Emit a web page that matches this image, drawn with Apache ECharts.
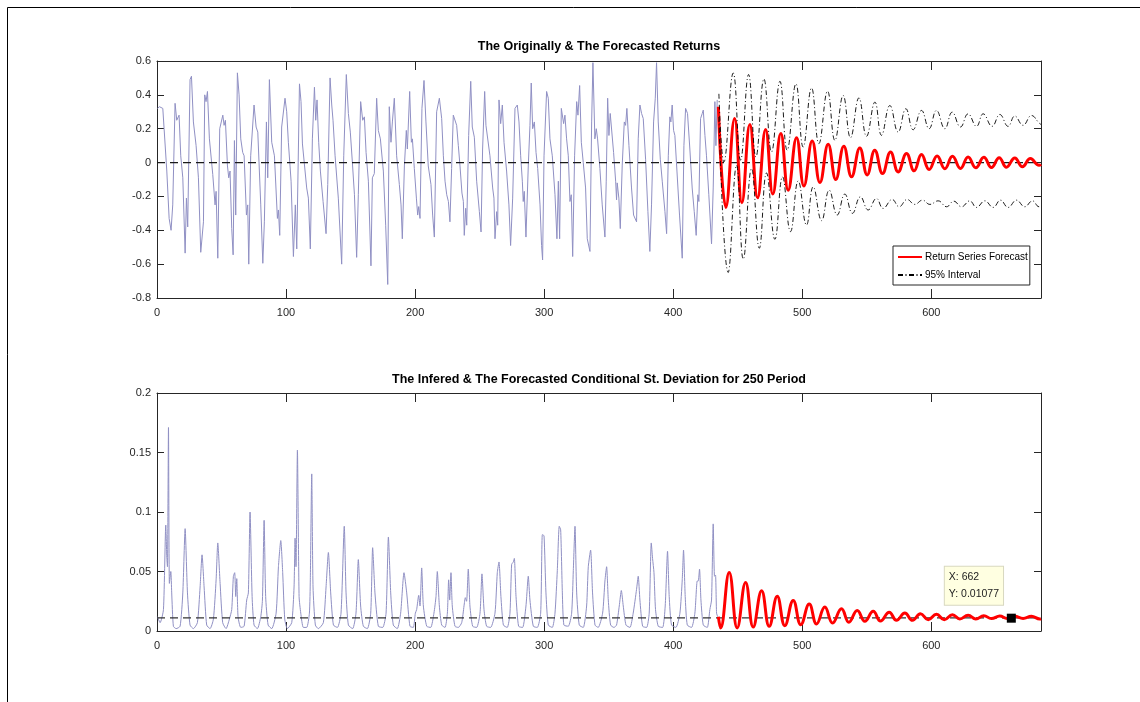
<!DOCTYPE html>
<html>
<head>
<meta charset="utf-8">
<script src="https://cdn.jsdelivr.net/npm/echarts@6/dist/echarts.min.js"></script>
<style>
  html, body { margin: 0; padding: 0; background: #fff; }
  #chart { width: 1140px; height: 702px; }
</style>
</head>
<body>
<div id="chart"></div>
<script>
// [period, value]

// observed returns
let obsReturns = [
  [0.3,0.32],[1.9,0.33],[3.2,0.32],[4.5,0.32],[5.5,0.20],[7.6,-0.05],[9.4,-0.33],[10.9,-0.40],[12.2,-0.25],
  [14.0,0.35],[15.3,0.25],[17.1,0.28],[18.4,0.04],[20.0,-0.09],[21.8,-0.535],[22.8,-0.21],[23.8,-0.38],
  [25.6,0.49],[26.7,0.51],[28.2,0.24],[30.3,0.10],[32.1,-0.09],[33.9,-0.53],[36.0,-0.35],[37.0,0.40],
  [38.0,0.36],[39.1,0.42],[40.6,0.14],[43.2,-0.07],[45.0,-0.25],[45.8,-0.17],[47.1,-0.565],[48.6,0.20],
  [51.0,0.28],[52.0,0.22],[53.0,0.25],[54.6,-0.02],[55.6,-0.09],[56.6,-0.05],[57.9,-0.39],[59.0,-0.545],
  [60.0,0.13],[61.0,-0.31],[62.3,0.53],[63.6,0.40],[64.9,0.14],[66.4,0.06],[67.5,0.04],[69.3,-0.31],
  [70.3,-0.25],[71.1,-0.60],[72.6,0.04],[75.2,0.34],[76.8,0.21],[78.1,0.18],[80.4,-0.25],[82.0,-0.595],
  [83.2,-0.35],[84.8,0.24],[85.8,-0.09],[87.1,0.49],[88.9,0.12],[91.0,0.04],[93.3,-0.33],[94.1,-0.28],
  [95.1,-0.43],[96.6,0.21],[97.9,0.20],[99.2,0.38],[100.5,0.30],[101.8,0.12],[103.9,-0.11],[105.7,-0.555],
  [107.2,-0.25],[108.3,-0.51],[110.4,0.465],[111.6,0.36],[112.7,0.11],[114.0,0.10],[116.0,-0.15],
  [117.3,-0.21],[118.8,-0.51],[120.4,0.14],[122.0,0.445],[123.0,0.25],[124.0,0.37],[125.3,0.12],
  [126.6,-0.05],[128.7,-0.23],[131.0,-0.42],[132.3,-0.13],[134.1,0.50],[135.4,0.34],[136.4,0.25],
  [138.0,0.04],[140.5,-0.21],[143.1,-0.60],[144.7,0.04],[146.7,0.52],[148.3,0.29],[149.8,0.18],
  [151.4,0.00],[153.0,-0.19],[154.7,-0.56],[156.0,-0.19],[157.8,0.36],[159.4,0.25],[160.7,0.27],
  [162.0,0.06],[163.8,-0.11],[165.8,-0.61],[166.9,-0.09],[168.4,-0.065],[170.2,0.38],[171.5,0.19],
  [173.1,0.14],[175.4,-0.05],[177.2,-0.37],[178.8,-0.72],[180.0,0.33],[181.3,0.12],[182.4,0.24],
  [183.9,0.38],[185.7,0.04],[187.8,-0.13],[189.1,-0.25],[190.1,-0.45],[191.7,-0.02],[193.2,0.19],
  [194.0,0.08],[195.8,0.42],[197.1,0.12],[197.9,0.14],[199.4,-0.035],[201.0,-0.21],[202.0,-0.31],
  [202.8,-0.26],[203.8,-0.33],[205.3,0.32],[206.9,0.485],[208.4,0.24],[210.2,-0.02],[212.3,-0.13],
  [213.6,-0.31],[214.9,-0.44],[216.7,0.30],[217.5,0.31],[218.8,0.38],[220.6,0.26],[221.9,0.04],
  [223.2,-0.11],[224.5,-0.19],[225.8,-0.23],[227.0,-0.35],[228.3,-0.035],[229.6,0.28],[230.9,0.29],
  [232.2,0.22],[233.5,0.10],[234.8,-0.02],[236.3,-0.18],[237.4,-0.23],[238.1,-0.43],[239.2,-0.27],
  [240.0,-0.37],[241.5,0.16],[243.1,0.48],[244.3,0.21],[245.9,0.15],[247.7,-0.11],[249.8,-0.29],
  [251.1,-0.41],[252.3,0.08],[253.9,0.42],[254.9,0.22],[256.2,0.21],[258.0,0.04],[260.1,-0.15],
  [261.1,-0.21],[261.9,-0.45],[263.2,-0.29],[264.0,-0.37],[265.0,0.37],[266.3,0.23],[267.6,0.34],
  [268.9,0.12],[270.9,-0.05],[272.7,-0.25],[274.0,-0.49],[275.6,-0.21],[277.4,0.32],[279.2,0.34],
  [280.5,0.24],[281.8,0.04],[283.1,-0.11],[283.8,-0.23],[284.6,-0.17],[285.9,-0.44],[287.7,-0.02],
  [289.0,0.22],[290.0,0.47],[291.1,0.20],[292.4,0.24],[293.7,0.06],[295.0,-0.035],[296.8,-0.25],
  [298.0,-0.49],[298.8,-0.575],[299.9,0.04],[301.9,0.42],[303.2,0.38],[304.5,0.14],[306.3,0.04],
  [308.4,-0.19],[309.9,-0.45],[311.0,-0.11],[312.0,-0.45],[313.3,0.32],[314.3,0.33],[315.1,0.23],
  [316.1,0.28],[317.4,0.14],[318.7,0.04],[320.0,-0.23],[321.0,-0.19],[322.1,-0.555],[323.6,0.04],
  [325.2,0.36],[326.2,0.28],[327.5,0.455],[328.8,0.12],[330.3,0.00],[332.1,-0.15],[333.4,-0.45],
  [334.4,-0.46],[335.5,-0.525],[336.8,0.24],[337.8,0.59],[339.3,0.14],[340.4,0.20],[341.4,0.14],
  [343.2,-0.035],[345.0,-0.25],[347.1,-0.44],[348.1,-0.11],[349.2,0.38],[350.2,0.16],[351.2,0.29],
  [352.3,0.28],[353.8,0.06],[355.4,-0.11],[356.1,-0.22],[356.6,-0.12],[357.9,-0.21],[359.0,-0.39],
  [360.5,-0.015],[362.1,0.24],[363.1,0.22],[364.1,0.32],[365.7,0.10],[367.7,-0.15],[369.3,-0.31],
  [370.6,-0.32],[371.6,-0.35],[372.9,0.14],[374.2,0.34],[375.5,0.29],[376.8,0.26],[378.6,0.02],
  [380.4,-0.29],[381.9,-0.525],[383.2,-0.25],[384.8,0.24],[386.1,0.38],[387.1,0.59],[388.4,0.24],
  [390.0,0.02],[391.5,-0.11],[393.6,-0.29],[394.9,-0.42],[396.2,0.04],[397.4,0.27],[398.2,0.24],
  [399.2,0.34],[400.3,0.19],[401.3,0.16],[402.9,-0.05],[404.9,-0.31],[407.0,-0.565],[408.3,0.10],
  [409.6,0.32],[411.1,0.29],[412.9,0.08],[414.7,-0.15],[416.3,-0.29],[417.8,-0.43],[419.1,-0.19],
  [419.9,-0.23],[421.2,0.26],[422.5,0.29],[423.3,0.31],[424.6,0.16],[425.8,0.04],[427.6,-0.19],
  [429.7,-0.48],[431.0,-0.15],[432.3,0.36],[433.1,0.10],[434.1,0.37]
]

// forecasted returns (turning points)
let fcReturns = [
  [435,0.33],[440.8,-0.265],[447.6,0.26],[453.2,-0.237],[459.4,0.225],[465.4,-0.208],[471.6,0.196],
  [477.2,-0.186],[483.4,0.171],[489.1,-0.163],[495.6,0.147],[501.3,-0.139],[507.7,0.127],[513.7,-0.118],
  [520.1,0.108],[526.0,-0.10],[532.2,0.096],[538.2,-0.084],[544.6,0.086],[550.3,-0.073],[556.2,0.073],
  [562.2,-0.065],[568.4,0.063],[574.3,-0.055],[580.8,0.053],[586.7,-0.049],[592.4,0.047],[598.3,-0.041],
  [604.5,0.039],[610.5,-0.037],[616.4,0.037],[622.6,-0.035],[628.5,0.033],[634.5,-0.031],[640.7,0.031],
  [646.6,-0.029],[652.6,0.029],[658.2,-0.027],[664.7,0.027],[670.6,-0.025],[676.8,0.024],[683.5,-0.016],
  [685,-0.01]
]

// 95% interval bounds
let fcUpper = [
  [435.4,0.406],[439.3,0.004],[446.5,0.529],[452.2,0.014],[458.4,0.52],[464.1,0.033],[470.3,0.494],
  [476.2,0.063],[482.7,0.480],[488.3,0.073],[495.1,0.465],[500.7,0.092],[507.2,0.441],[512.9,0.112],
  [519.6,0.422],[525.3,0.131],[531.7,0.396],[537.4,0.147],[543.9,0.382],[549.8,0.155],[556.3,0.357],
  [561.4,0.161],[567.9,0.337],[574.3,0.180],[580.3,0.318],[585.9,0.194],[592.4,0.308],[598.3,0.20],
  [604.0,0.308],[610.5,0.20],[616.2,0.298],[622.6,0.210],[628.5,0.288],[635.0,0.214],[640.2,0.288],
  [647.1,0.214],[653.1,0.284],[659.5,0.214],[664.7,0.275],[671.1,0.220],[677.6,0.278],[683.5,0.234],
  [685,0.225]
]
let fcLower = [
  [435.4,0.269],[442.6,-0.649],[449.1,-0.016],[454.3,-0.571],[460.7,-0.035],[466.7,-0.506],[472.3,-0.061],
  [478.8,-0.453],[484.7,-0.084],[490.9,-0.408],[496.9,-0.108],[503.3,-0.369],[508.5,-0.143],[515.0,-0.343],
  [520.9,-0.163],[527.1,-0.310],[533.0,-0.186],[538.9,-0.300],[545.1,-0.202],[551.1,-0.280],[557.5,-0.212],
  [562.7,-0.271],[569.7,-0.218],[575.1,-0.261],[581.3,-0.218],[587.2,-0.247],[593.2,-0.222],[598.9,-0.247],
  [605.3,-0.226],[611.8,-0.261],[617.4,-0.228],[623.4,-0.261],[629.8,-0.226],[635.0,-0.265],[641.5,-0.226],
  [647.9,-0.265],[653.6,-0.222],[659.5,-0.265],[666.0,-0.222],[672.4,-0.261],[678.4,-0.226],[683.5,-0.261],
  [685,-0.255]
]

// inferred conditional st. deviation
let obsSigma = [
  [0.3,0.012],[2.4,0.007],[5.0,0.018],[6.8,0.089],[7.6,0.062],[8.1,0.054],[8.9,0.171],[9.6,0.040],
  [10.7,0.050],[11.4,0.032],[12.7,0.004],[14.8,0.002],[17.9,0.004],[20.0,0.032],[21.8,0.086],[23.6,0.032],
  [25.6,0.005],[28.2,0.002],[31.3,0.007],[33.4,0.037],[34.9,0.064],[36.5,0.037],[38.5,0.005],[41.1,0.002],
  [43.7,0.010],[45.8,0.043],[47.1,0.074],[48.9,0.040],[50.9,0.007],[53.5,0.002],[56.1,0.010],[57.9,0.018],
  [59.2,0.046],[60.2,0.049],[61.0,0.029],[61.8,0.044],[62.8,0.012],[64.9,0.003],[67.5,0.004],[69.5,0.026],
  [70.8,0.032],[72.1,0.100],[73.7,0.029],[75.2,0.005],[77.8,0.002],[80.4,0.012],[81.7,0.026],[83.0,0.093],
  [84.2,0.029],[86.1,0.005],[88.9,0.002],[92.3,0.015],[94.1,0.054],[95.9,0.076],[97.4,0.049],[99.0,0.010],
  [101.0,0.002],[104.4,0.007],[106.2,0.037],[107.0,0.078],[107.7,0.054],[108.8,0.152],[110.1,0.029],
  [111.4,0.015],[113.4,0.003],[116.0,0.003],[118.1,0.015],[118.8,0.043],[119.9,0.132],[120.9,0.037],
  [122.7,0.005],[125.0,0.002],[128.9,0.007],[131.0,0.037],[132.8,0.066],[134.6,0.032],[136.7,0.005],
  [139.8,0.003],[142.6,0.015],[145.1,0.088],[146.5,0.032],[148.3,0.005],[151.6,0.002],[154.2,0.015],
  [156.0,0.060],[157.8,0.021],[159.9,0.004],[163.0,0.002],[165.6,0.015],[167.1,0.070],[168.9,0.032],
  [171.5,0.004],[174.9,0.003],[177.5,0.015],[179.3,0.079],[181.1,0.032],[183.1,0.005],[186.2,0.002],
  [188.8,0.015],[191.4,0.049],[193.5,0.032],[196.0,0.004],[198.6,0.003],[200.2,0.015],[201.2,0.018],
  [202.8,0.030],[203.8,0.021],[205.1,0.053],[206.4,0.021],[209.0,0.004],[212.1,0.003],[214.6,0.015],
  [216.2,0.029],[217.2,0.050],[218.8,0.021],[220.6,0.005],[223.2,0.003],[225.0,0.015],[226.0,0.043],
  [226.8,0.026],[227.8,0.049],[228.8,0.021],[230.9,0.004],[233.5,0.003],[236.1,0.007],[237.9,0.021],
  [238.9,0.028],[239.9,0.025],[241.2,0.052],[242.5,0.021],[244.6,0.004],[247.7,0.003],[250.3,0.015],
  [251.8,0.048],[253.4,0.018],[255.4,0.004],[258.5,0.003],[261.9,0.015],[263.7,0.049],[265.0,0.058],
  [266.5,0.029],[268.4,0.005],[271.4,0.003],[273.5,0.015],[274.8,0.056],[276.1,0.058],[276.9,0.061],
  [278.2,0.029],[280.2,0.004],[283.3,0.003],[285.9,0.021],[287.7,0.046],[289.0,0.026],[291.6,0.004],
  [294.7,0.003],[297.3,0.015],[298.6,0.081],[299.9,0.080],[301.4,0.032],[303.2,0.005],[306.3,0.003],
  [308.4,0.015],[310.2,0.051],[311.7,0.088],[312.8,0.085],[314.1,0.032],[315.3,0.005],[318.7,0.004],
  [321.3,0.015],[322.6,0.051],[323.9,0.088],[325.2,0.032],[327.2,0.005],[330.3,0.003],[332.9,0.021],
  [334.2,0.054],[336.0,0.068],[337.5,0.032],[339.4,0.005],[341.9,0.003],[345.3,0.015],[347.1,0.042],
  [348.4,0.054],[349.7,0.026],[351.5,0.005],[354.1,0.003],[356.1,0.005],[358.2,0.021],[359.8,0.034],
  [361.3,0.021],[363.4,0.005],[366.5,0.003],[369.0,0.015],[371.6,0.035],[372.9,0.046],[374.2,0.026],
  [376.3,0.004],[379.4,0.003],[381.4,0.015],[383.0,0.074],[384.0,0.061],[385.1,0.049],[386.3,0.018],
  [388.4,0.004],[391.8,0.003],[393.8,0.021],[395.6,0.067],[396.9,0.029],[398.7,0.005],[402.1,0.003],
  [405.2,0.015],[407.0,0.043],[408.0,0.068],[409.3,0.029],[410.9,0.005],[414.2,0.003],[416.8,0.015],
  [418.6,0.042],[419.4,0.042],[420.4,0.052],[421.5,0.026],[423.3,0.005],[426.4,0.003],[428.4,0.018],
  [429.7,0.026],[431.0,0.090],[432.0,0.046],[432.8,0.047],[433.6,0.015],[434.5,0.012]
]

// forecasted conditional st. deviation (turning points)
let fcSigma = [
  [435,0.012],[436.7,0.0026],[443.4,0.0491],[449.6,0.0026],[456.1,0.0408],[462.0,0.0034],[468.5,0.0338],
  [474.4,0.0039],[480.6,0.0291],[486.5,0.0045],[493.0,0.0257],[498.9,0.0053],[505.4,0.0226],[511.1,0.0059],
  [517.5,0.0201],[523.5,0.0067],[530.4,0.0187],[536.1,0.0073],[542.6,0.0173],[548.5,0.0081],[555.0,0.0165],
  [560.6,0.0084],[567.4,0.0157],[573.0,0.0090],[579.5,0.0151],[585.4,0.0090],[591.6,0.0146],[597.6,0.0095],
  [604.0,0.0140],[610.0,0.0095],[616.4,0.0137],[622.1,0.0101],[628.5,0.0132],[634.5,0.0101],[640.7,0.0129],
  [646.6,0.0104],[653.1,0.0126],[658.8,0.0106],[662,0.01077],[664.7,0.0123],[671.1,0.0106],[677.6,0.0123],
  [684.1,0.0101],[685,0.0103]
]

// reference levels
let meanLine = [[0, 0], [685, 0]]
let sigmaLine = [[0, 0.011], [685, 0.011]]

// data tip
let tipX = 662
let tipY = 0.01077

let titles = ['The Originally & The Forecasted Returns',
  'The Infered & The Forecasted Conditional St. Deviation for 250 Period']

let font = 'Liberation Sans, Arial, sans-serif'
let axisColor = '#262626'
let obsColor = '#9090c4'

function xAxisPair(gridIndex) {
  let base = {
    type: 'value', gridIndex: gridIndex, min: 0, max: 685, interval: 100,
    splitLine: { show: false },
    axisLine: { show: true, onZero: false, lineStyle: { color: axisColor, width: 1 } },
    axisTick: { show: true, inside: true, length: 9, lineStyle: { color: axisColor } }
  }
  return [
    Object.assign({}, base, {
      position: 'bottom',
      axisLabel: { show: true, margin: 9, showMaxLabel: false, color: axisColor, fontSize: 11, fontFamily: font }
    }),
    Object.assign({}, base, { position: 'top', axisLabel: { show: false } })
  ]
}

function yAxisPair(gridIndex, min, max, interval) {
  let base = {
    type: 'value', gridIndex: gridIndex, min: min, max: max, interval: interval,
    splitLine: { show: false },
    axisLine: { show: true, onZero: false, lineStyle: { color: axisColor, width: 1 } },
    axisTick: { show: true, inside: true, length: 7, lineStyle: { color: axisColor } }
  }
  return [
    Object.assign({}, base, {
      position: 'left',
      axisLabel: { show: true, margin: 6, color: axisColor, fontSize: 11, fontFamily: font }
    }),
    Object.assign({}, base, { position: 'right', axisLabel: { show: false } })
  ]
}

let chart = echarts.init(document.getElementById('chart'), null, { renderer: 'canvas' })

let option = {
  backgroundColor: '#fff',
  animation: false,
  title: [
    { text: titles[0], left: 599, top: 40, textAlign: 'center', padding: 0,
      textStyle: { fontSize: 12.5, fontWeight: 'bold', color: '#000', fontFamily: font } },
    { text: titles[1], left: 599, top: 373, textAlign: 'center', padding: 0,
      textStyle: { fontSize: 12.5, fontWeight: 'bold', color: '#000', fontFamily: font } }
  ],
  grid: [
    { left: 157, top: 61, width: 884, height: 237 },
    { left: 157, top: 393, width: 884, height: 238 }
  ],
  xAxis: xAxisPair(0).concat(xAxisPair(1)),
  yAxis: yAxisPair(0, -0.8, 0.6, 0.2).concat(yAxisPair(1, 0, 0.2, 0.05)),
  legend: {
    data: ['Return Series Forecast', '95% Interval'],
    orient: 'vertical', left: 893, top: 246,
    itemWidth: 24, itemHeight: 10, itemGap: 8,
    padding: [6, 2, 5, 4],
    itemStyle: { opacity: 0 },
    backgroundColor: '#fff', borderColor: axisColor, borderWidth: 1, borderRadius: 0,
    textStyle: { fontSize: 10, color: '#000', fontFamily: font, padding: [0, 0, 0, -2] }
  },
  graphic: [
    { type: 'line', shape: { x1: 7.5, y1: 7.5, x2: 1140, y2: 7.5 }, style: { stroke: '#000', lineWidth: 1 } },
    { type: 'line', shape: { x1: 7.5, y1: 7.5, x2: 7.5, y2: 702 }, style: { stroke: '#000', lineWidth: 1 } }
  ],
  series: [
    {
      type: 'line', name: 'obs', xAxisIndex: 0, yAxisIndex: 0, data: obsReturns,
      symbol: 'none', lineStyle: { color: obsColor, width: 1 }, z: 2
    },
    {
      type: 'line', name: 'mean', xAxisIndex: 0, yAxisIndex: 0, data: meanLine,
      symbol: 'none', lineStyle: { color: '#1a1a1a', width: 1.2, type: [8, 5] }, z: 3
    },
    {
      type: 'line', name: 'Return Series Forecast', xAxisIndex: 0, yAxisIndex: 0, data: fcReturns,
      symbol: 'none', smooth: 0.45, color: '#ff0000', lineStyle: { color: '#ff0000', width: 3 }, z: 4
    },
    {
      type: 'line', name: '95% Interval', xAxisIndex: 0, yAxisIndex: 0, data: fcUpper,
      symbol: 'none', smooth: 0.45, color: '#000',
      lineStyle: { color: '#000', width: 0.9, type: [5, 2.5, 1, 2.5] }, z: 5
    },
    {
      type: 'line', name: '95% Interval', xAxisIndex: 0, yAxisIndex: 0, data: fcLower,
      symbol: 'none', smooth: 0.45, color: '#000',
      lineStyle: { color: '#000', width: 0.9, type: [5, 2.5, 1, 2.5] }, z: 5
    },
    {
      type: 'line', name: 'sigma', xAxisIndex: 2, yAxisIndex: 2, data: obsSigma,
      symbol: 'none', smooth: 0.2, lineStyle: { color: obsColor, width: 1 }, z: 2
    },
    {
      type: 'line', name: 'level', xAxisIndex: 2, yAxisIndex: 2, data: sigmaLine,
      symbol: 'none', lineStyle: { color: '#333', width: 1.2, type: [8, 5] }, z: 3
    },
    {
      type: 'line', name: 'sigma forecast', xAxisIndex: 2, yAxisIndex: 2, data: fcSigma,
      symbol: 'none', smooth: 0.45, lineStyle: { color: '#ff0000', width: 3 }, z: 4,
      markPoint: {
        symbol: 'rect', symbolSize: 9,
        itemStyle: { color: '#000' },
        data: [{
          coord: [tipX, tipY],
          label: {
            show: true,
            position: [-62, -47],
            formatter: 'X: ' + tipX + '\nY: ' + tipY,
            align: 'left', verticalAlign: 'top',
            color: '#222', fontSize: 10.5, lineHeight: 17, fontFamily: font,
            backgroundColor: '#ffffe1', borderColor: '#d8d8c0', borderWidth: 1,
            padding: [2, 4, 2, 4]
          }
        }]
      }
    }
  ]
}

chart.setOption(option)
</script>
</body>
</html>
